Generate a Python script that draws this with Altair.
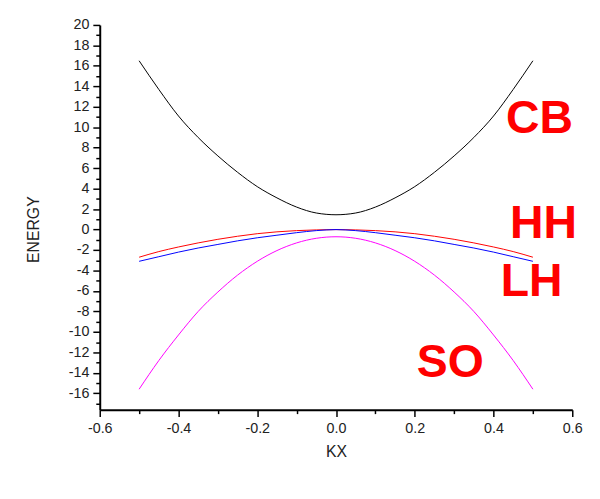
import altair as alt
import pandas as pd

kx = [-0.5, -0.45, -0.4, -0.35, -0.3, -0.25, -0.2, -0.15, -0.1, -0.05, 0.0,
      0.05, 0.1, 0.15, 0.2, 0.25, 0.3, 0.35, 0.4, 0.45, 0.5]
cb = [16.5, 13.7, 11.1, 9.0, 7.2, 5.6, 4.2, 3.1, 2.2, 1.62, 1.45,
      1.62, 2.2, 3.1, 4.2, 5.6, 7.2, 9.0, 11.1, 13.7, 16.5]
hh = [-2.7, -2.15, -1.7, -1.3, -0.95, -0.65, -0.4, -0.22, -0.1, -0.03, 0.0,
      -0.03, -0.1, -0.22, -0.4, -0.65, -0.95, -1.3, -1.7, -2.15, -2.7]
lh = [-3.1, -2.65, -2.2, -1.8, -1.45, -1.1, -0.8, -0.55, -0.3, -0.1, 0.0,
      -0.1, -0.3, -0.55, -0.8, -1.1, -1.45, -1.8, -2.2, -2.65, -3.1]
so = [-15.6, -12.8, -10.3, -8.0, -6.1, -4.45, -3.1, -2.05, -1.3, -0.85, -0.7,
      -0.85, -1.3, -2.05, -3.1, -4.45, -6.1, -8.0, -10.3, -12.8, -15.6]

band_names = ["CB", "HH", "LH", "SO"]
band_colors = ["#000000", "#ff0000", "#0000ff", "#ff00ff"]

note_text = ["CB", "HH", "LH", "SO"]
note_kx = [0.517, 0.527, 0.497, 0.29]
note_energy = [10.8, 0.5, -5.1, -13.1]

rows = []
for name, vals in zip(band_names, [cb, hh, lh, so]):
    for k, e in zip(kx, vals):
        rows.append({"band": name, "KX": k, "ENERGY": e})
df = pd.DataFrame(rows)
notes = pd.DataFrame({"label": note_text, "KX": note_kx, "ENERGY": note_energy})

x_ticks = [-0.6, -0.5, -0.4, -0.3, -0.2, -0.1, 0.0, 0.1, 0.2, 0.3, 0.4, 0.5, 0.6]
y_ticks = list(range(-17, 21))

x_scale = alt.Scale(domain=[-0.6, 0.6], nice=False, zero=False)
y_scale = alt.Scale(domain=[-17.6, 20], nice=False, zero=False)

x_axis = alt.Axis(
    values=x_ticks,
    labelExpr="abs(round(datum.value*10)) % 2 == 0 ? ((datum.value < -0.001 ? '-' : '') + format(abs(datum.value), '.1f')) : ''",
    tickSize={"condition": {"test": "abs(round(datum.value*10)) % 2 == 0", "value": 7}, "value": 4},
    labelPadding=5,
    titlePadding=9,
)
y_axis = alt.Axis(
    values=y_ticks,
    labelExpr="datum.value % 2 == 0 ? ((datum.value < 0 ? '-' : '') + abs(datum.value)) : ''",
    tickSize={"condition": {"test": "datum.value % 2 == 0", "value": 7}, "value": 4},
    labelPadding=4,
    titlePadding=27,
    titleY=207,
)

x_enc = alt.X("KX:Q", scale=x_scale, axis=x_axis, title="KX")
y_enc = alt.Y("ENERGY:Q", scale=y_scale, axis=y_axis, title="ENERGY")

lines = alt.Chart(df).mark_line(strokeWidth=1, interpolate="monotone").encode(
    x=x_enc,
    y=y_enc,
    color=alt.Color("band:N", scale=alt.Scale(domain=band_names, range=band_colors), legend=None),
    detail="band:N",
)

labels = alt.Chart(notes).mark_text(
    font="Liberation Sans", fontSize=47, fontWeight="bold", color="#ff0000",
    align="center", baseline="middle",
).encode(
    x=x_enc,
    y=y_enc,
    text="label:N",
)

chart = alt.layer(lines, labels).properties(
    width=479, height=390,
    autosize=alt.AutoSizeParams(type="none"),
    padding={"left": 93, "top": 14, "right": 20, "bottom": 60},
    background="white",
).configure_view(stroke=None).configure_axis(
    grid=False, domainColor="black", domainWidth=2, tickColor="black", tickWidth=1.5,
    labelFont="Liberation Sans", labelFontSize=14.5, labelColor="#222222",
    labelFlush=False, labelOverlap=False,
    titleFont="Liberation Sans", titleFontSize=16, titleFontWeight="normal", titleColor="#222222",
)

chart.save("out.html", embed_options={"renderer": "svg", "actions": False})
